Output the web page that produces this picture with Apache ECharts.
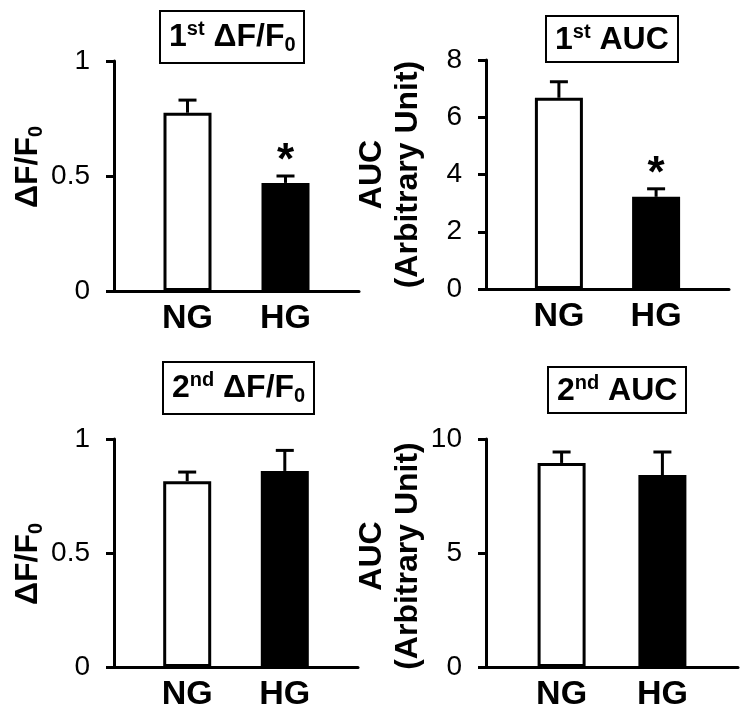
<!DOCTYPE html>
<html lang="en">
<head>
    <meta charset="UTF-8">
    <title>NG vs HG</title>
    <script src="https://cdn.jsdelivr.net/npm/echarts@6/dist/echarts.min.js"></script>
    <style>
        html, body { margin: 0; padding: 0; background: #fff; }
        #main { width: 751px; height: 720px; }
    </style>
</head>
<body>
    <div id="main"></div>
<script>
    // groups on the x axis
    var groups = ['NG', 'HG'];
    var barColors = ['#ffffff', '#000000'];

    // 1st peak dF/F0
    var firstDff = [0.775, 0.47];
    var firstDffErr = [0.055, 0.03];
    // 1st AUC
    var firstAuc = [6.68, 3.22];
    var firstAucErr = [0.56, 0.28];
    // 2nd peak dF/F0
    var secondDff = [0.815, 0.86];
    var secondDffErr = [0.04, 0.09];
    // 2nd AUC
    var secondAuc = [8.95, 8.42];
    var secondAucErr = [0.48, 1.01];

    // significance marks
    var firstSig = ['', '*'];
    var secondSig = ['', ''];

    // y axis ranges: [max, interval]
    var dffTicks = [1, 0.5];
    var firstAucTicks = [8, 2];
    var secondAucTicks = [10, 5];

    var FONT = 'Arial, "Liberation Sans", sans-serif';

    // category list with empty slots around, so the bars sit where they do in the figure
    var cats = ['', groups[0], '', groups[1], ''];

    var panels = [
        {
            title: '{m|1}{s|st}{m| ΔF/F}{d|0}', tLeft: 160, tTop: 11, tPad: [8, 9, 8, 9],
            grid: { left: 114, top: 61, width: 245, height: 230 },
            ticks: dffTicks, name: '{m|ΔF/F}{d|0}', nameGap: 68, namePad: [0, 0, 0, 18],
            vals: firstDff, errs: firstDffErr, sig: firstSig
        },
        {
            title: '{m|1}{s|st}{m| AUC}', tLeft: 546, tTop: 16, tPad: [6, 9, 6, 9],
            grid: { left: 486, top: 60, width: 243, height: 229 },
            ticks: firstAucTicks, name: '{m|AUC}\n{m|(Arbitrary Unit)}', nameGap: 60, namePad: 0,
            vals: firstAuc, errs: firstAucErr, sig: firstSig
        },
        {
            title: '{m|2}{s|nd}{m| ΔF/F}{d|0}', tLeft: 163, tTop: 362, tPad: [8, 9, 8, 9],
            grid: { left: 114, top: 439, width: 244, height: 228 },
            ticks: dffTicks, name: '{m|ΔF/F}{d|0}', nameGap: 68, namePad: [0, 22, 0, 0],
            vals: secondDff, errs: secondDffErr, sig: secondSig
        },
        {
            title: '{m|2}{s|nd}{m| AUC}', tLeft: 548, tTop: 367, tPad: [6, 9, 6, 9],
            grid: { left: 486, top: 439, width: 252, height: 228 },
            ticks: secondAucTicks, name: '{m|AUC}\n{m|(Arbitrary Unit)}', nameGap: 60, namePad: [0, 6, 0, 0],
            vals: secondAuc, errs: secondAucErr, sig: secondSig
        }
    ];

    var richText = {
        m: { fontSize: 32, fontWeight: 'bold', fontFamily: FONT, color: '#000', lineHeight: 36 },
        s: { fontSize: 20, fontWeight: 'bold', fontFamily: FONT, color: '#000', verticalAlign: 'top', lineHeight: 36 },
        d: { fontSize: 20, fontWeight: 'bold', fontFamily: FONT, color: '#000', verticalAlign: 'bottom', lineHeight: 30 }
    };

    var titles = [], grids = [], xAxes = [], yAxes = [], series = [];

    panels.forEach(function (p, k) {
        titles.push({
            text: p.title,
            left: p.tLeft,
            top: p.tTop,
            borderColor: '#000',
            borderWidth: 2,
            padding: p.tPad,
            textStyle: { rich: richText }
        });
        grids.push(p.grid);
        xAxes.push({
            type: 'category',
            gridIndex: k,
            data: cats,
            boundaryGap: true,
            axisLine: { lineStyle: { color: '#000', width: 3 } },
            axisTick: { show: false },
            axisLabel: {
                interval: 0, margin: 11, color: '#000',
                fontSize: 34, fontWeight: 'bold', fontFamily: FONT
            },
            splitLine: { show: false }
        });
        yAxes.push({
            type: 'value',
            gridIndex: k,
            min: 0,
            max: p.ticks[0],
            interval: p.ticks[1],
            name: p.name,
            nameLocation: 'middle',
            nameRotate: 90,
            nameGap: p.nameGap,
            nameTextStyle: { rich: richText, padding: p.namePad, align: 'center' },
            axisLine: { show: true, lineStyle: { color: '#000', width: 3 } },
            axisTick: { show: true, inside: false, length: 8, lineStyle: { color: '#000', width: 3 } },
            axisLabel: { margin: 24, color: '#000', fontSize: 28, fontFamily: FONT },
            splitLine: { show: false }
        });

        // bars
        series.push({
            type: 'bar',
            xAxisIndex: k,
            yAxisIndex: k,
            barWidth: 48,
            data: groups.map(function (g, i) {
                return {
                    value: [g, p.vals[i]],
                    itemStyle: { color: barColors[i], borderColor: '#000', borderWidth: 3 }
                };
            }),
            silent: true,
            animation: false
        });

        // error bars (upper only) and significance star
        series.push({
            type: 'custom',
            xAxisIndex: k,
            yAxisIndex: k,
            data: groups.map(function (g, i) { return [g, p.vals[i], p.errs[i]]; }),
            renderItem: function (params, api) {
                var v = api.value(1);
                var e = api.value(2);
                var base = api.coord([api.value(0), v]);
                var top = api.coord([api.value(0), v + e]);
                var st = { stroke: '#000', lineWidth: 3 };
                var children = [
                    { type: 'line', shape: { x1: base[0], y1: base[1], x2: top[0], y2: top[1] }, style: st },
                    { type: 'line', shape: { x1: top[0] - 9, y1: top[1], x2: top[0] + 9, y2: top[1] }, style: st }
                ];
                var mark = p.sig[params.dataIndex];
                if (mark) {
                    children.push({
                        type: 'text',
                        x: top[0],
                        y: top[1] + 8,
                        style: {
                            text: mark, fill: '#000',
                            fontSize: 44, fontWeight: 'bold', fontFamily: FONT,
                            align: 'center', verticalAlign: 'bottom'
                        }
                    });
                }
                return { type: 'group', children: children };
            },
            z: 3,
            silent: true,
            animation: false
        });
    });

    var myChart = echarts.init(document.getElementById('main'));
    myChart.setOption({
        backgroundColor: '#fff',
        animation: false,
        title: titles,
        grid: grids,
        xAxis: xAxes,
        yAxis: yAxes,
        series: series
    });
</script>
</body>
</html>
